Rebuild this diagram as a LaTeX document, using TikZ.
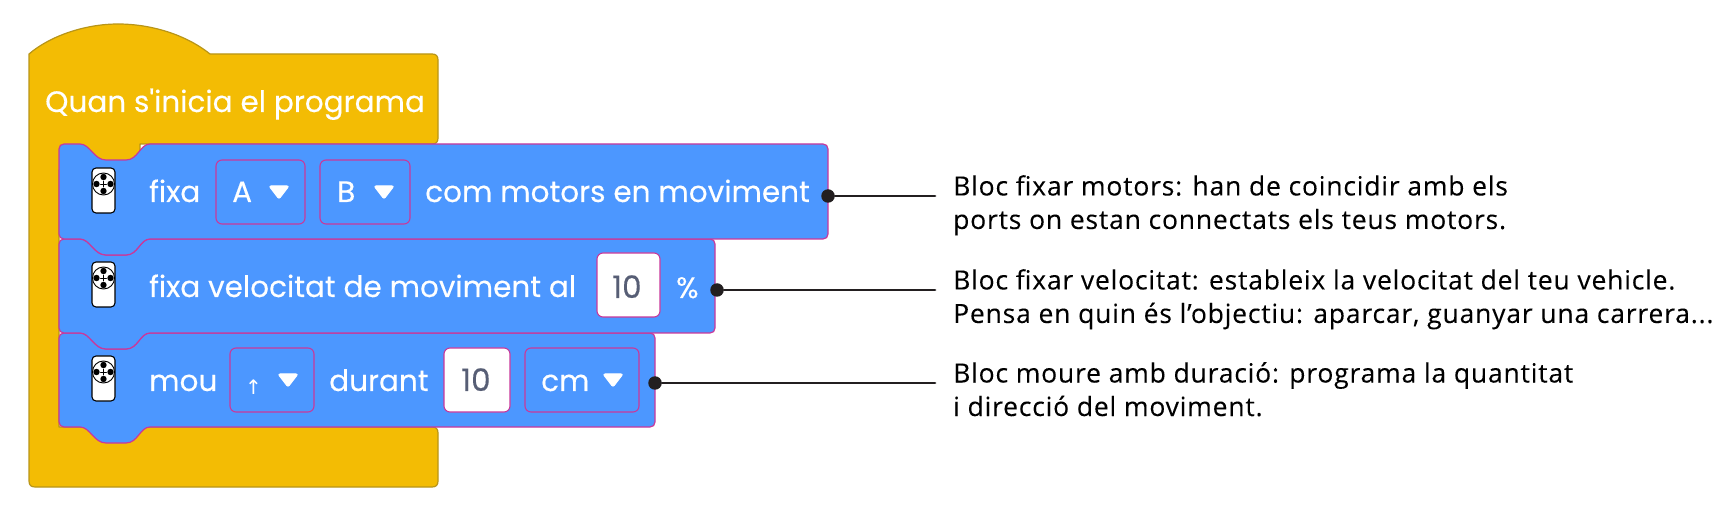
\documentclass[tikz,border=0pt]{standalone}
\usepackage{fontspec}
\usepackage{xcolor}
\setmainfont{Poppins}[FakeBold=0.25,Ligatures=TeXOff]
\newfontfamily\notefont{Open Sans}[FakeBold=0.1,LetterSpace=3]
\newfontfamily\arrowfont{DejaVu Sans}
\definecolor{hatyellow}{rgb}{0.953,0.737,0.016}
\definecolor{hatedge}{rgb}{0.722,0.584,0.094}
\definecolor{blockblue}{rgb}{0.298,0.592,1.}
\definecolor{blockedge}{rgb}{0.788,0.22,0.608}
\definecolor{valuegrey}{rgb}{0.341,0.369,0.459}
\definecolor{leadblack}{rgb}{0.137,0.122,0.125}
\tikzset{
  blocktext/.style={anchor=base west,inner sep=0pt,text=white,font=\fontsize{29.5}{30}\selectfont},
  valuetext/.style={anchor=base west,inner sep=0pt,text=valuegrey,font=\fontsize{31}{30}\selectfont},
  notetext/.style={anchor=north west,inner sep=0pt,align=left,text=black,font=\notefont\fontsize{26.5}{33.5}\selectfont},
  leaddot/.style={circle,fill=leadblack,inner sep=0pt,minimum size=13.5pt},
  leadline/.style={line width=2.8pt,color=leadblack},
  blockbody/.style={fill=blockblue,draw=blockedge,line width=1.2pt},
  fieldbox/.style={draw=blockedge,line width=1.1pt,rounded corners=6pt},
  droptip/.style={fill=white,draw=white,line width=1pt,rounded corners=2pt}
}
% one stack block: top, bottom, right
\newcommand{\stackblock}[3]{
  \draw[blockbody] (59,#1+5) .. controls (59,#1+2) and (61,#1) .. (64,#1) -- (80,#1) .. controls (90,#1) and (94,#1+16) .. (106,#1+16) -- (126,#1+16) .. controls (138,#1+16) and (140,#1) .. (150,#1) -- (#3-5,#1) .. controls (#3-2,#1) and (#3,#1+2) .. (#3,#1+5) -- (#3,#2-5) .. controls (#3,#2-2) and (#3-2,#2) .. (#3-5,#2) -- (150,#2) .. controls (140,#2) and (138,#2+16) .. (126,#2+16) -- (106,#2+16) .. controls (94,#2+16) and (90,#2) .. (80,#2) -- (64,#2) .. controls (61,#2) and (59,#2-2) .. (59,#2-5) -- cycle;
}
% remote icon, by centre of its wheel
\newcommand{\remoteicon}[1]{
  \draw[fill=white,line width=1.1pt,rounded corners=4pt] (92,#1-16) rectangle (115,#1+29);
  \draw[fill=white,line width=0.9pt] (103.5,#1) circle (11);
  \foreach \dx/\dy in {0/-7,0/7,-7/0,7/0}
    \fill (103.5+\dx,#1+\dy) circle (3.2);
  \draw[line width=0.8pt] (100.5,#1) -- (106.5,#1) (103.5,#1-3) -- (103.5,#1+3);
}
\newcommand{\droptri}[2]{
  \draw[droptip] (#1,#2) -- (#1+20,#2) -- (#1+10,#2+13) -- cycle;
}
\begin{document}
\begin{tikzpicture}[x=1pt,y=-1pt,line cap=round,line join=round]
  \useasboundingbox (0,0) rectangle (1725,521);
  % hat block
  \draw[fill=hatyellow,draw=hatedge,line width=1.2pt] (29,54) .. controls (50,36) and (85,24) .. (118,24) .. controls (150,24) and (185,34) .. (210,54) -- (432,54) .. controls (436,54) and (438,56) .. (438,60) -- (438,138) .. controls (438,142) and (436,144) .. (432,144) -- (140,144) -- (140,170) -- (59,170) -- (59,427) -- (432,427) .. controls (436,427) and (438,429) .. (438,433) -- (438,481) .. controls (438,485) and (436,487) .. (432,487) -- (35,487) .. controls (31,487) and (29,485) .. (29,481) -- cycle;
  \node[blocktext] (hatlabel) at (45,112) {Quan s'inicia el programa};
  % stack, last one first
  \stackblock{333}{427}{655}
  \stackblock{239}{333}{715}
  \stackblock{144}{239}{828}
  \remoteicon{184}
  \remoteicon{278}
  \remoteicon{372}
  % first row
  \node[blocktext] (fixa) at (149,202) {fixa};
  \draw[fieldbox] (216,160) rectangle (305,224);
  \node[blocktext] (portA) at (232,202) {A};
  \droptri{269}{186}
  \draw[fieldbox] (320,160) rectangle (410,224);
  \node[blocktext] (portB) at (337,202) {B};
  \droptri{374}{186}
  \node[blocktext] (motors) at (425,202) {com motors en moviment};
  % second row
  \node[blocktext] (speed) at (149,297) {fixa velocitat de moviment al};
  \draw[fieldbox,fill=white] (597,253) rectangle (660,317);
  \node[valuetext] (speedval) at (612,298) {10};
  \node[blocktext] (percent) at (676,298) {\%};
  % third row
  \node[blocktext] (mou) at (149,391) {mou};
  \draw[fieldbox] (230,348) rectangle (314,412);
  \node[anchor=base west,inner sep=0pt,text=white,font=\arrowfont\fontsize{20}{22}\selectfont] (updir) at (245,395) {↑};
  \droptri{278}{374}
  \node[blocktext] (durant) at (329,391) {durant};
  \draw[fieldbox,fill=white] (444,348) rectangle (510,412);
  \node[valuetext] (distval) at (461,391) {10};
  \draw[fieldbox] (525,348) rectangle (639,412);
  \node[blocktext] (cm) at (541,391) {cm};
  \droptri{603}{374}
  % leaders
  \node[leaddot] (dotmotors) at (828,196) {};
  \node[leaddot] (dotspeed) at (717,290) {};
  \node[leaddot] (dotmove) at (655,383) {};
  \coordinate (endmotors) at (935,196);
  \coordinate (endspeed) at (935,290);
  \coordinate (endmove) at (935,383);
  \draw[leadline] (dotmotors) -- (endmotors);
  \draw[leadline] (dotspeed) -- (endspeed);
  \draw[leadline] (dotmove) -- (endmove);
  % notes
  \node[notetext] (notemotors) at (953,175) {Bloc fixar motors: han de coincidir amb els\\ports on estan connectats els teus motors.};
  \node[notetext] (notespeed) at (953,269) {Bloc fixar velocitat: estableix la velocitat del teu vehicle.\\Pensa en quin és l’objectiu: aparcar, guanyar una carrera...};
  \node[notetext] (notemove) at (953,362) {Bloc moure amb duració: programa la quantitat\\i direcció del moviment.};
\end{tikzpicture}
\end{document}
